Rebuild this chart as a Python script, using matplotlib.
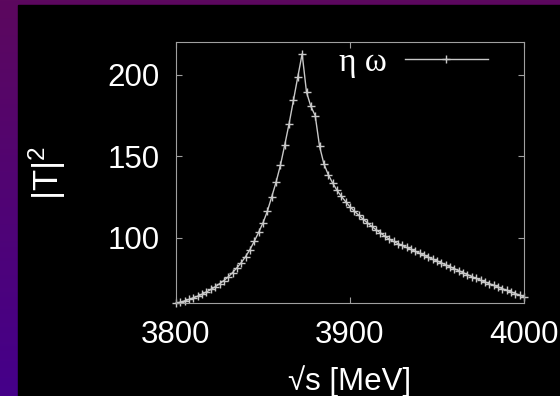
import numpy as np
import matplotlib

matplotlib.use("Agg")
import matplotlib.pyplot as plt
from matplotlib.patches import Rectangle

# sqrt(s) in MeV, 2.5 MeV steps
sqrt_s = np.arange(3800.0, 4000.0 + 1e-9, 2.5)

t2_left = [
    59.9, 60.5, 61.3, 62.2, 63.2, 64.2, 65.4, 66.8, 68.3, 69.9,
    71.8, 73.8, 76.0, 78.7, 81.6, 84.8, 88.5, 92.8, 97.9, 103.4,
    109.2, 116.3, 125.1, 134.1, 144.5, 157.0, 170.1, 184.4, 198.8,
]
t2_peak = [212.9]
t2_right = [
    189.4, 180.7, 175.0, 156.2, 145.4, 138.8, 133.7, 129.2, 125.5, 122.2,
    119.0, 116.4, 113.9, 111.5, 109.2, 107.0, 105.0, 103.0, 101.0, 99.2,
    97.8, 96.5, 95.3, 94.1, 92.9, 91.7, 90.5, 89.3, 88.1, 86.9,
    85.8, 84.6, 83.4, 82.2, 81.0, 79.8, 78.6, 77.4, 76.2, 75.1,
    74.0, 72.9, 71.9, 70.9, 69.8, 68.8, 67.8, 66.8, 65.8, 64.8,
    63.8,
]
t2 = np.array(t2_left + t2_peak + t2_right)

x_ticks = [3800, 3900, 4000]
y_ticks = [100, 150, 200]

plt.rcParams["font.family"] = ["Liberation Sans", "DejaVu Sans"]
plt.rcParams["mathtext.fontset"] = "custom"
plt.rcParams["mathtext.rm"] = "Liberation Sans"
plt.rcParams["mathtext.it"] = "Liberation Sans"
plt.rcParams["mathtext.default"] = "regular"

W, H = 560, 396
fig = plt.figure(figsize=(W / 100, H / 100), dpi=100)

# slide background: purple gradient with black panel
bg = fig.add_axes([0, 0, 1, 1])
bg.set_axis_off()
grad = np.linspace(0, 1, 256).reshape(-1, 1)
top_col = np.array([0x5c, 0x08, 0x5e]) / 255
bot_col = np.array([0x45, 0x00, 0x8a]) / 255
img = top_col[None, None, :] * (1 - grad[:, :, None]) + bot_col[None, None, :] * grad[:, :, None]
bg.imshow(img, aspect="auto", extent=[0, 1, 0, 1])
bg.add_patch(Rectangle((18 / W, 0), 1, 1 - 5 / H, color="black", transform=bg.transAxes))
bg.set_xlim(0, 1)
bg.set_ylim(0, 1)

ax = fig.add_axes([176 / W, 1 - 303 / H, 348 / W, (303 - 42.3) / H])
ax.set_facecolor("black")

line_col = "#c8c8c8"
frame_col = "#a0a0a0"
ax.plot(sqrt_s, t2, color=line_col, linewidth=1.0, marker="+",
        markersize=6, markeredgewidth=1.0, label="eta omega", clip_on=False)

ax.set_xlim(3800, 4000)
ax.set_ylim(60, 220)
ax.set_xticks(x_ticks)
ax.set_yticks(y_ticks)
ax.tick_params(direction="in", length=4, width=0.8, color=frame_col,
               labelcolor="white", labelsize=22.5, pad=12,
               top=True, right=True)
for s in ax.spines.values():
    s.set_color(frame_col)
    s.set_linewidth(0.8)

ax.set_xlabel("\u221as [MeV]", color="white", fontsize=22.5, va="top")
ax.xaxis.set_label_coords(0.5, -0.24)
ax.set_ylabel("$|T|^2$", color="white", fontsize=25)
ax.yaxis.set_label_coords(-0.31, 0.5)

leg = ax.legend(loc="center right", bbox_to_anchor=(0.8966, 0.9217),
                frameon=False, markerfirst=False, borderpad=0, borderaxespad=0,
                handlelength=2.5, handletextpad=0.55,
                prop={"family": ["Liberation Serif", "DejaVu Serif"], "size": 24})
for t in leg.get_texts():
    t.set_color("white")
    t.set_text("\u03b7 \u03c9")

fig.savefig("out.png", dpi=100, facecolor=fig.get_facecolor())
